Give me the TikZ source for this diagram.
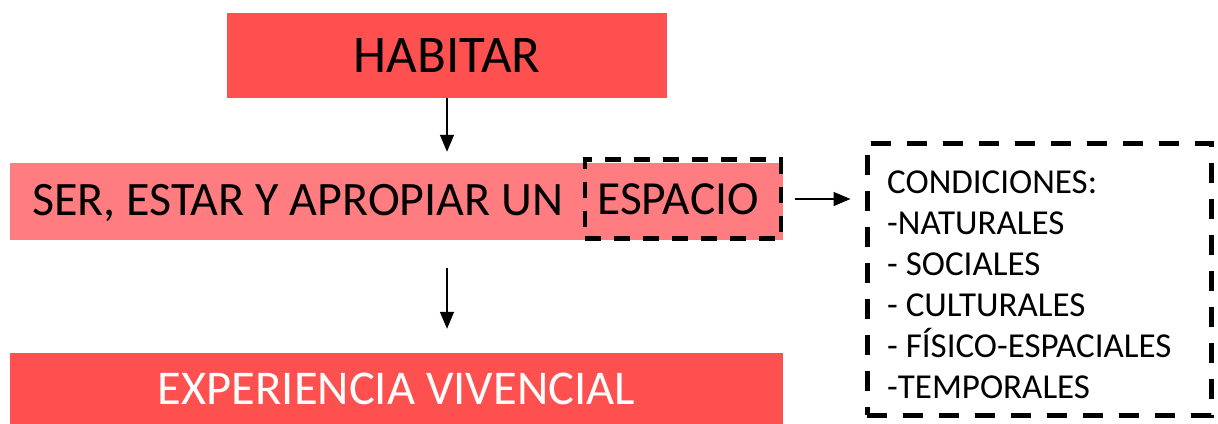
\documentclass[tikz,border=0pt]{standalone}
\usepackage{fontspec}
\setmainfont{Carlito}
\usetikzlibrary{arrows.meta, positioning}

\begin{document}
\begin{tikzpicture}[
  x=1pt, y=-1pt,
  box/.style = {minimum height=77pt, inner sep=0pt},
  dashbox/.style = {draw, line width=4.5pt, dash pattern=on 16pt off 13pt},
  arrow/.style = {line width=1.5pt, -{Triangle[width=14pt, length=17pt]}}
]
  \useasboundingbox (0,0) rectangle (1218,423);

  % Top block
  \node[box, fill={rgb,255:red,255;green,80;blue,80}, minimum width=440pt, minimum height=85pt,
        font=\fontsize{53}{62}\selectfont] (habitar) at (447,55) {HABITAR};

  % Middle block with the dashed word
  \node[box, fill={rgb,255:red,255;green,124;blue,128}, minimum width=773pt] (ser) at (396.5,201.5) {};
  \node[anchor=west, inner sep=0pt, font=\fontsize{48}{57}\selectfont] (sertxt) at (32,203) {SER, ESTAR Y APROPIAR UN};
  \node[dashbox, minimum width=196pt, minimum height=79pt, inner sep=0pt,
        font=\fontsize{47.5}{57}\selectfont] (espacio) at (683,199) {\hspace*{-10pt}ESPACIO};

  % Bottom block
  \node[box, fill={rgb,255:red,255;green,80;blue,80}, minimum width=773pt, minimum height=72pt,
        text=white, font=\fontsize{48.5}{58}\selectfont] (exp) at (396.5,389) {EXPERIENCIA VIVENCIAL};

  % Conditions box
  \node[dashbox, dash pattern=on 20pt off 16pt, line width=5pt, minimum width=344pt, minimum height=272pt] (cond) at (1039,279) {};
  \node[anchor=north west, inner sep=0pt, align=left, font=\fontsize{35}{41}\selectfont] (condtxt) at (887,171) {%
    CONDICIONES:\\
    -NATURALES\\
    - SOCIALES\\
    - CULTURALES\\
    - FÍSICO-ESPACIALES\\
    -TEMPORALES};

  % Arrows
  \draw[arrow, shorten >=11pt] (habitar.south) -- (habitar.south |- ser.north);
  \draw[arrow, shorten <=28pt, shorten >=24pt] (ser.south -| habitar.south) -- (exp.north -| habitar.south);
  \draw[arrow, shorten <=12pt, shorten >=14pt] (espacio.east) -- (espacio.east -| cond.west);

\end{tikzpicture}
\end{document}
